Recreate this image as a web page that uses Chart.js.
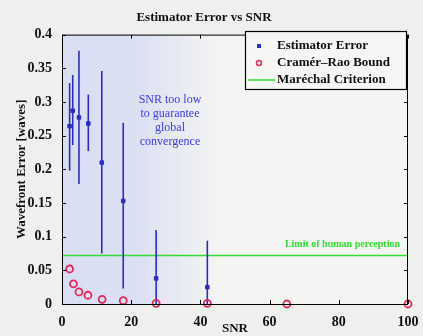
<!DOCTYPE html>
<html>
<head>
<meta charset="utf-8">
<script src="https://cdn.jsdelivr.net/npm/chart.js@4/dist/chart.umd.min.js"></script>
<style>
	html, body { margin: 0; padding: 0; background: #efefed; }
	#wrap { width: 423px; height: 336px; }
</style>
</head>
<body>
<div id="wrap"><canvas id="errChart" width="423" height="336"></canvas></div>
<script>
// SNR positions of the simulation runs
const snrValues = [2.2, 3.1, 4.9, 7.6, 11.5, 17.7, 27.2, 42];
const estimatorError = [0.264, 0.287, 0.277, 0.268, 0.210, 0.153, 0.038, 0.025];
const errLow = [0.198, 0.236, 0.178, 0.227, 0.075, 0.023, 0.0, 0.0];
const errHigh = [0.328, 0.340, 0.376, 0.311, 0.346, 0.269, 0.110, 0.094];

const crbSnr = [2.2, 3.3, 4.9, 7.5, 11.6, 17.7, 27.2, 42, 65, 100];
const crbValues = [0.052, 0.030, 0.018, 0.013, 0.007, 0.005, 0.001, 0.001, 0.0, 0.0];

const marechalLimit = 0.072;
const lowSnrEdge = 45; // where the shaded region fades out

const xTicks = [0, 20, 40, 60, 80, 100];
const yTicks = [0, 0.05, 0.1, 0.15, 0.2, 0.25, 0.3, 0.35, 0.4];

const blue = "#2b2bc8";
const red = "#e02a5a";
const green = "#33dd33";
const serif = "'Liberation Serif', 'Times New Roman', serif";

// shaded low SNR region, drawn behind the data
const shadePlugin = {
	id: "shade",
	beforeDatasetsDraw(chart) {
		const { ctx, chartArea, scales } = chart;
		const x0 = scales.x.getPixelForValue(0);
		const x1 = scales.x.getPixelForValue(lowSnrEdge);
		ctx.save();
		ctx.fillStyle = "#f4f4f2";
		ctx.fillRect(chartArea.left, chartArea.top, chartArea.width, chartArea.height);
		const grad = ctx.createLinearGradient(x0, 0, x1, 0);
		grad.addColorStop(0, "rgba(218,222,242,1)");
		grad.addColorStop(0.5, "rgba(220,224,243,1)");
		grad.addColorStop(1, "rgba(222,226,243,0)");
		ctx.fillStyle = grad;
		ctx.fillRect(x0, chartArea.top, x1 - x0, chartArea.height);

		// Marechal criterion line
		const yl = scales.y.getPixelForValue(marechalLimit);
		ctx.strokeStyle = green;
		ctx.lineWidth = 1.5;
		ctx.beginPath();
		ctx.moveTo(chartArea.left, yl);
		ctx.lineTo(chartArea.right, yl);
		ctx.stroke();
		ctx.fillStyle = green;
		ctx.font = "bold 10px " + serif;
		ctx.textAlign = "right";
		ctx.textBaseline = "bottom";
		ctx.fillText("Limit of human perception", chartArea.right - 8, yl - 6);

		// note about low SNR
		ctx.fillStyle = "#3c3cdc";
		ctx.font = "12px " + serif;
		ctx.textAlign = "center";
		ctx.textBaseline = "middle";
		const notes = ["SNR too low", "to guarantee", "global", "convergence"];
		notes.forEach((t, i) => ctx.fillText(t, 170, 100 + i * 14));

		// error bars
		ctx.strokeStyle = blue;
		ctx.lineWidth = 1.6;
		for (let i = 0; i < snrValues.length; i++) {
			const px = scales.x.getPixelForValue(snrValues[i]);
			ctx.beginPath();
			ctx.moveTo(px, scales.y.getPixelForValue(errLow[i]));
			ctx.lineTo(px, scales.y.getPixelForValue(errHigh[i]));
			ctx.stroke();
		}
		ctx.restore();
	},
	afterDraw(chart) {
		const { ctx, chartArea, scales } = chart;
		ctx.save();
		// axes box and inner ticks
		ctx.strokeStyle = "#000";
		ctx.lineWidth = 1;
		ctx.strokeRect(chartArea.left + 0.5, chartArea.top + 0.5, chartArea.width - 1, chartArea.height);
		ctx.beginPath();
		xTicks.forEach((v) => {
			const px = Math.round(scales.x.getPixelForValue(v)) + 0.5;
			ctx.moveTo(px, chartArea.bottom);
			ctx.lineTo(px, chartArea.bottom - 4);
			ctx.moveTo(px, chartArea.top);
			ctx.lineTo(px, chartArea.top + 4);
		});
		yTicks.forEach((v) => {
			const py = Math.round(scales.y.getPixelForValue(v)) + 0.5;
			ctx.moveTo(chartArea.left, py);
			ctx.lineTo(chartArea.left + 4, py);
			ctx.moveTo(chartArea.right, py);
			ctx.lineTo(chartArea.right - 4, py);
		});
		ctx.stroke();

		// legend box
		const lx = 245, ly = 31, lw = 161, lh = 58;
		ctx.fillStyle = "#f6f6f4";
		ctx.fillRect(lx, ly, lw, lh);
		ctx.lineWidth = 1.2;
		ctx.strokeRect(lx + 0.5, ly + 0.5, lw, lh);
		ctx.font = "bold 13px " + serif;
		ctx.fillStyle = "#111";
		ctx.textAlign = "left";
		ctx.textBaseline = "middle";
		const rows = ["Estimator Error", "Cramér\u2013Rao Bound", "Maréchal Criterion"];
		rows.forEach((t, i) => ctx.fillText(t, 277, 46 + i * 17));
		ctx.fillStyle = blue;
		ctx.fillRect(257, 44, 4, 4);
		ctx.strokeStyle = red;
		ctx.lineWidth = 1.5;
		ctx.beginPath();
		ctx.arc(259, 63, 2.5, 0, Math.PI * 2);
		ctx.stroke();
		ctx.strokeStyle = green;
		ctx.beginPath();
		ctx.moveTo(248, 80);
		ctx.lineTo(275, 80);
		ctx.stroke();
		ctx.restore();
	},
};

const ctx = document.getElementById("errChart").getContext("2d");
const myChart = new Chart(ctx, {
	type: "scatter",
	data: {
		datasets: [
			{
				label: "Estimator Error",
				data: snrValues.map((x, i) => ({ x: x, y: estimatorError[i] })),
				pointStyle: "rect",
				pointRadius: 2.5,
				backgroundColor: blue,
				borderColor: blue,
			},
			{
				label: "Cramér–Rao Bound",
				data: crbSnr.map((x, i) => ({ x: x, y: crbValues[i] })),
				pointStyle: "circle",
				pointRadius: 3.5,
				borderWidth: 1.8,
				backgroundColor: "rgba(0,0,0,0)",
				borderColor: red,
			},
		],
	},
	options: {
		responsive: false,
		animation: false,
		clip: false,
		layout: { padding: { top: 0, right: 15, bottom: 0, left: 0 } },
		plugins: {
			legend: { display: false },
			tooltip: { enabled: false },
			title: {
				display: true,
				text: "Estimator Error vs SNR",
				color: "#111",
				font: { family: serif, size: 13, weight: "bold" },
				padding: { top: 10, bottom: 9 },
			},
		},
		scales: {
			x: {
				type: "linear",
				min: 0,
				max: 100,
				afterBuildTicks: (axis) => {
					axis.ticks = xTicks.map((v) => ({ value: v }));
				},
				grid: { display: false },
				border: { display: false },
				ticks: {
					color: "#111",
					padding: 2,
					maxRotation: 0,
					font: { family: serif, size: 14, weight: "bold" },
				},
				title: {
					display: true,
					text: "SNR",
					color: "#111",
					padding: { top: -4, bottom: 0 },
					font: { family: serif, size: 13, weight: "bold" },
				},
				afterFit: (axis) => {
					axis.height = 32;
				},
			},
			y: {
				min: 0,
				max: 0.4,
				afterBuildTicks: (axis) => {
					axis.ticks = yTicks.map((v) => ({ value: v }));
				},
				grid: { display: false },
				border: { display: false },
				ticks: {
					color: "#111",
					padding: 2,
					font: { family: serif, size: 14, weight: "bold" },
					callback: (v) => String(+Number(v).toFixed(2)),
				},
				title: {
					display: true,
					text: "Wavefront Error [waves]",
					color: "#111",
					padding: { top: 14, bottom: 0 },
					font: { family: serif, size: 13, weight: "bold" },
				},
				afterFit: (axis) => {
					axis.width = 62;
				},
			},
		},
	},
	plugins: [shadePlugin],
});
</script>
</body>
</html>
